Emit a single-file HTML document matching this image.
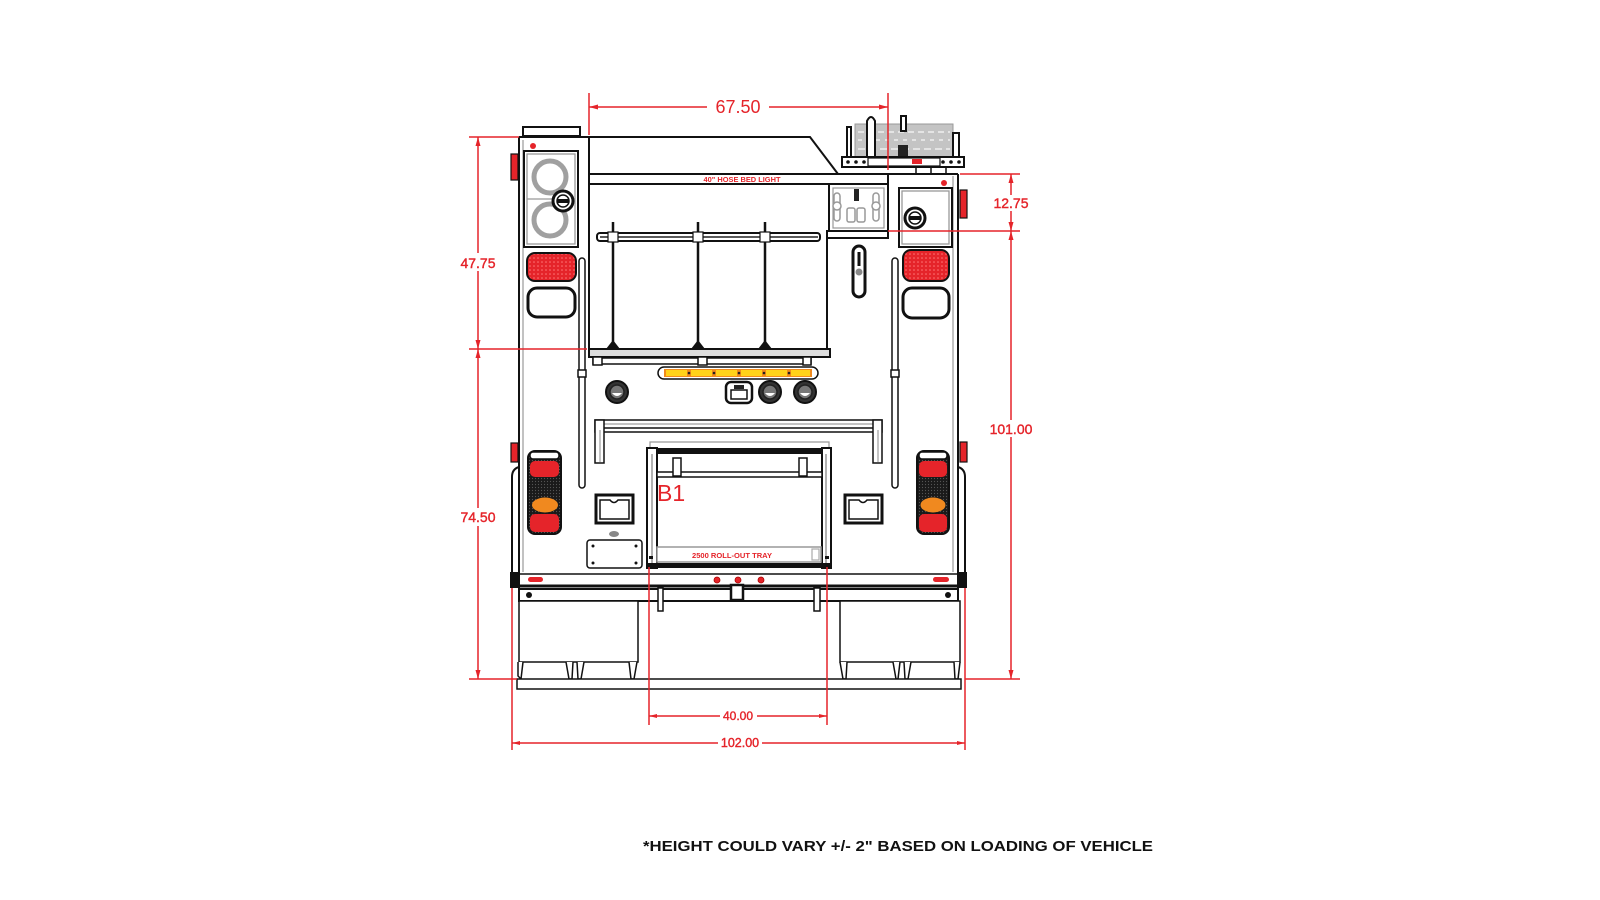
<!DOCTYPE html>
<html><head><meta charset="utf-8"><style>html,body{margin:0;padding:0;background:#fff;}svg{display:block}</style></head>
<body>
<svg width="1600" height="900" viewBox="0 0 1600 900" xmlns="http://www.w3.org/2000/svg">
<defs>
<pattern id="rd" width="4" height="4" patternUnits="userSpaceOnUse"><rect width="4" height="4" fill="#e5242a"/><circle cx="2" cy="2" r="0.8" fill="#f77"/></pattern>
<pattern id="dk" width="3" height="3" patternUnits="userSpaceOnUse"><rect width="3" height="3" fill="#1a1a1a"/><circle cx="1.5" cy="1.5" r="0.6" fill="#555"/></pattern>
</defs>
<rect width="1600" height="900" fill="#fff"/>

<g fill="none" stroke="#111" stroke-width="2">
<!-- ladder rack -->
<rect x="855" y="124" width="98" height="33" fill="#c4c4c4" stroke="#999" stroke-width="1"/>
<g stroke="#eee" stroke-width="1.5"><line x1="858" y1="132" x2="950" y2="132" stroke-dasharray="6 4"/><line x1="858" y1="140" x2="950" y2="140" stroke-dasharray="4 5"/><line x1="858" y1="149" x2="950" y2="149" stroke-dasharray="7 4"/></g>
<rect x="847" y="127" width="4" height="30" fill="#fff"/>
<path d="M867,157 L867,121 Q871,113 875,121 L875,157" fill="#fff"/>
<rect x="901" y="116" width="5" height="15" fill="#fff"/>
<rect x="953" y="133" width="6" height="24" fill="#fff"/>
<rect x="898" y="145" width="10" height="15" fill="#222" stroke="none"/>
<rect x="842" y="157" width="122" height="10" fill="#fff"/>
<rect x="868" y="158" width="72" height="8" fill="#fff" stroke-width="1.2"/>
<rect x="912" y="159" width="10" height="5" fill="#e5242a" stroke="none"/>
<g fill="#111" stroke="none"><circle cx="848" cy="162" r="1.8"/><circle cx="856" cy="162" r="1.8"/><circle cx="864" cy="162" r="1.8"/><circle cx="943" cy="162" r="1.8"/><circle cx="951" cy="162" r="1.8"/><circle cx="959" cy="162" r="1.8"/></g>
<line x1="916" y1="167" x2="916" y2="174" stroke-width="1.5"/><line x1="931" y1="167" x2="931" y2="174" stroke-width="1.5"/><line x1="946" y1="167" x2="946" y2="174" stroke-width="1.5"/>

<!-- roof & top -->
<rect x="523" y="127" width="57" height="9" fill="#fff"/>
<path d="M519,137 L810,137 L838,174"/>
<line x1="589" y1="137" x2="589" y2="357"/>
<line x1="589" y1="174" x2="958" y2="174"/>
<line x1="589" y1="184" x2="829" y2="184"/>
<line x1="888" y1="174" x2="888" y2="238"/>

<!-- body sides -->
<line x1="519" y1="137" x2="519" y2="601"/>
<line x1="523" y1="140" x2="523" y2="572" stroke="#999" stroke-width="1.2"/>
<line x1="958" y1="174" x2="958" y2="601"/>
<line x1="953" y1="176" x2="953" y2="572" stroke="#999" stroke-width="1.2"/>
<path d="M519,467 Q512,469 512,477 L512,574"/>
<path d="M958,467 Q965,469 965,477 L965,574"/>

<!-- console panel -->
<rect x="829" y="184" width="59" height="47" fill="#fff"/>
<rect x="833" y="188" width="51" height="40" stroke="#999" stroke-width="1.2"/>
<g stroke="#999" stroke-width="1.5" fill="#fff">
<rect x="834" y="193" width="6" height="28" rx="3"/><circle cx="837" cy="206" r="4"/>
<rect x="873" y="193" width="6" height="28" rx="3"/><circle cx="876" cy="206" r="4"/>
<rect x="847" y="208" width="8" height="14" rx="2"/><rect x="857" y="208" width="8" height="14" rx="2"/>
</g>
<rect x="854" y="189" width="5" height="12" fill="#222" stroke="none"/>
<rect x="827" y="231" width="61" height="7" fill="#fff"/>
<line x1="827" y1="231" x2="827" y2="357"/>

<!-- handle pill -->
<rect x="853" y="246" width="12" height="51" rx="6" fill="#fff" stroke-width="3"/>
<line x1="859" y1="252" x2="859" y2="266" stroke-width="3"/>
<circle cx="859" cy="272" r="3.5" fill="#888" stroke="none"/>

<!-- hose bed bar & posts -->
<rect x="597" y="233" width="223" height="8" rx="3" fill="#fff" stroke-width="2"/>
<line x1="600" y1="237" x2="818" y2="237" stroke-width="1.5" stroke="#222"/>
<g stroke-width="2.5"><line x1="613" y1="222" x2="613" y2="344"/><line x1="698" y1="222" x2="698" y2="344"/><line x1="765" y1="222" x2="765" y2="344"/></g>
<g fill="#111" stroke="none"><path d="M606,349 L620,349 L613,340Z"/><path d="M691,349 L705,349 L698,340Z"/><path d="M758,349 L772,349 L765,340Z"/></g>
<g stroke-width="1.2" fill="#fff"><rect x="608" y="232" width="10" height="10"/><rect x="693" y="232" width="10" height="10"/><rect x="760" y="232" width="10" height="10"/></g>

<!-- hose bed bottom -->
<rect x="589" y="349" width="241" height="8" fill="#ddd"/>
<rect x="593" y="358" width="218" height="6" fill="#fff" stroke-width="1.5"/>
<g fill="#fff" stroke-width="1.5"><rect x="593" y="357" width="9" height="8"/><rect x="698" y="357" width="9" height="8"/><rect x="803" y="357" width="8" height="8"/></g>

<!-- light bar -->
<rect x="658" y="367" width="160" height="12" rx="6" fill="#fff" stroke-width="1.5"/>
<rect x="664" y="369" width="148" height="8" fill="#f08a1d" stroke="none"/>
<g fill="#ffd21a" stroke="none"><rect x="666" y="370" width="21" height="6"/><rect x="691" y="370" width="21" height="6"/><rect x="716" y="370" width="21" height="6"/><rect x="741" y="370" width="21" height="6"/><rect x="766" y="370" width="21" height="6"/><rect x="791" y="370" width="19" height="6"/></g>
<g fill="#222" stroke="none"><circle cx="689" cy="373" r="1.3"/><circle cx="714" cy="373" r="1.3"/><circle cx="739" cy="373" r="1.3"/><circle cx="764" cy="373" r="1.3"/><circle cx="789" cy="373" r="1.3"/></g>

<!-- round lights -->
<g>
<circle cx="617" cy="392" r="11" fill="#333" stroke-width="2"/><circle cx="617" cy="392" r="7" fill="#777" stroke="#222" stroke-width="1.5"/><path d="M612,393 Q617,399 622,393Z" fill="#fff" stroke="none"/>
<circle cx="770" cy="392" r="11" fill="#333" stroke-width="2"/><circle cx="770" cy="392" r="7" fill="#777" stroke="#222" stroke-width="1.5"/><path d="M765,393 Q770,399 775,393Z" fill="#fff" stroke="none"/>
<circle cx="805" cy="392" r="11" fill="#333" stroke-width="2"/><circle cx="805" cy="392" r="7" fill="#777" stroke="#222" stroke-width="1.5"/><path d="M800,393 Q805,399 810,393Z" fill="#fff" stroke="none"/>
<rect x="726" y="382" width="26" height="21" rx="5" fill="#fff" stroke-width="2.5"/>
<rect x="731" y="390" width="16" height="9" fill="#fff" stroke-width="1.5"/><rect x="734" y="385" width="10" height="4" fill="#222" stroke="none"/>
</g>

<!-- shelf -->
<rect x="595" y="420" width="287" height="12" fill="#fff" stroke-width="1.5"/>
<line x1="597" y1="424" x2="880" y2="424" stroke="#888" stroke-width="1"/>
<line x1="597" y1="428" x2="880" y2="428" stroke-width="1.5"/>
<rect x="595" y="420" width="9" height="43" fill="#fff" stroke-width="1.5"/><line x1="600" y1="430" x2="600" y2="462" stroke="#888" stroke-width="1"/>
<rect x="873" y="420" width="9" height="43" fill="#fff" stroke-width="1.5"/><line x1="878" y1="430" x2="878" y2="462" stroke="#888" stroke-width="1"/>

<!-- compartment B1 -->
<path d="M650,448 L650,442 L829,442 L829,448" stroke="#999" stroke-width="1.2"/>
<rect x="647" y="448" width="184" height="6" fill="#111" stroke="none"/>
<rect x="647" y="448" width="10" height="120" fill="#fff" stroke-width="2"/><line x1="652" y1="454" x2="652" y2="566" stroke="#666" stroke-width="1"/>
<rect x="822" y="448" width="9" height="120" fill="#fff" stroke-width="2"/><line x1="826" y1="454" x2="826" y2="566" stroke="#666" stroke-width="1"/>
<rect x="657" y="472" width="165" height="5" fill="#fff" stroke-width="1.5"/>
<rect x="673" y="458" width="8" height="18" fill="#fff" stroke-width="1.5"/><rect x="799" y="458" width="8" height="18" fill="#fff" stroke-width="1.5"/>
<rect x="657" y="547" width="164" height="15" fill="#fff" stroke="#999" stroke-width="1.5"/>
<rect x="812" y="549" width="7" height="11" stroke="#aaa" stroke-width="1.2"/>
<rect x="647" y="563" width="184" height="5" fill="#111" stroke="none"/>
<g fill="#111" stroke="none"><rect x="649" y="556" width="4" height="3"/><rect x="825" y="556" width="4" height="3"/></g>

<!-- left column -->
<circle cx="533" cy="146" r="3" fill="#e5242a" stroke="none"/>
<rect x="524" y="151" width="54" height="96" fill="#fff"/>
<rect x="527" y="154" width="48" height="90" stroke="#999" stroke-width="1.3"/>
<line x1="527" y1="199" x2="575" y2="199" stroke="#999" stroke-width="1.3"/>
<circle cx="550" cy="177" r="16" stroke="#a0a0a0" stroke-width="5"/>
<circle cx="550" cy="220" r="16" stroke="#a0a0a0" stroke-width="5"/>
<circle cx="563" cy="201" r="10" fill="#fff" stroke-width="3"/><circle cx="563" cy="201" r="6" stroke-width="1.5"/><rect x="557" y="199" width="12" height="4" fill="#111" stroke="none"/>
<rect x="511" y="154" width="7" height="26" fill="#e5242a" stroke-width="1.2"/>
<rect x="527" y="253" width="49" height="28" rx="8" fill="url(#rd)" stroke-width="2"/>
<rect x="528" y="288" width="47" height="29" rx="9" fill="#fff" stroke-width="3"/>
<rect x="579" y="258" width="6" height="230" rx="3" fill="#fff" stroke-width="1.5"/>
<rect x="578" y="370" width="8" height="7" fill="#fff" stroke-width="1.5"/>
<rect x="511" y="443" width="7" height="19" fill="#e5242a" stroke-width="1.2"/>
<rect x="528" y="451" width="33" height="83" rx="7" fill="url(#dk)" stroke-width="2"/>
<rect x="530" y="452" width="29" height="7" rx="3" fill="#fff" stroke-width="1.5"/>
<rect x="530" y="461" width="29" height="16" rx="5" fill="#e5242a" stroke="none"/>
<rect x="530" y="514" width="29" height="18" rx="5" fill="#e5242a" stroke="none"/>
<ellipse cx="545" cy="505" rx="13" ry="7.5" fill="#f0891f" stroke="none"/>
<rect x="596" y="495" width="37" height="28" fill="#fff" stroke-width="3"/>
<path d="M600,500 L610,500 Q614,505 618,500 L629,500 L629,519 L600,519Z" stroke-width="1.5"/>
<ellipse cx="614" cy="534" rx="5" ry="3" fill="#888" stroke="none"/>
<rect x="587" y="540" width="55" height="28" rx="3" fill="#fff" stroke-width="1.5"/>
<g fill="#111" stroke="none"><circle cx="593" cy="546" r="1.5"/><circle cx="636" cy="546" r="1.5"/><circle cx="593" cy="563" r="1.5"/><circle cx="636" cy="563" r="1.5"/></g>

<!-- right column -->
<circle cx="944" cy="183" r="3" fill="#e5242a" stroke="none"/>
<rect x="899" y="188" width="53" height="59" fill="#fff"/>
<rect x="902" y="191" width="47" height="53" stroke="#999" stroke-width="1.3"/>
<circle cx="915" cy="218" r="10" fill="#fff" stroke-width="3"/><circle cx="915" cy="218" r="6" stroke-width="1.5"/><rect x="909" y="216" width="12" height="4" fill="#111" stroke="none"/>
<rect x="960" y="190" width="7" height="28" fill="#e5242a" stroke-width="1.2"/>
<rect x="903" y="250" width="46" height="31" rx="8" fill="url(#rd)" stroke-width="2"/>
<rect x="903" y="288" width="46" height="30" rx="9" fill="#fff" stroke-width="3"/>
<rect x="892" y="258" width="6" height="230" rx="3" fill="#fff" stroke-width="1.5"/>
<rect x="891" y="370" width="8" height="7" fill="#fff" stroke-width="1.5"/>
<rect x="960" y="442" width="7" height="20" fill="#e5242a" stroke-width="1.2"/>
<rect x="917" y="451" width="32" height="83" rx="7" fill="url(#dk)" stroke-width="2"/>
<rect x="919" y="452" width="28" height="7" rx="3" fill="#fff" stroke-width="1.5"/>
<rect x="919" y="461" width="28" height="16" rx="5" fill="#e5242a" stroke="none"/>
<rect x="919" y="514" width="28" height="18" rx="5" fill="#e5242a" stroke="none"/>
<ellipse cx="933" cy="505" rx="12.5" ry="7.5" fill="#f0891f" stroke="none"/>
<rect x="845" y="495" width="37" height="28" fill="#fff" stroke-width="3"/>
<path d="M849,500 L859,500 Q863,505 867,500 L878,500 L878,519 L849,519Z" stroke-width="1.5"/>

<!-- bumper -->
<line x1="512" y1="574" x2="965" y2="574" stroke-width="1.5"/>
<line x1="510" y1="586" x2="967" y2="586" stroke-width="3"/>
<rect x="528" y="577" width="15" height="5" rx="2.5" fill="#e5242a" stroke="none"/>
<rect x="933" y="577" width="16" height="5" rx="2.5" fill="#e5242a" stroke="none"/>
<g fill="#e5242a" stroke="#a00" stroke-width="0.8"><circle cx="717" cy="580" r="3"/><circle cx="738" cy="580" r="3"/><circle cx="761" cy="580" r="3"/></g>
<rect x="510" y="572" width="8" height="16" fill="#111" stroke="none"/>
<rect x="958" y="572" width="9" height="16" fill="#111" stroke="none"/>
<rect x="519" y="589" width="439" height="12" fill="#fff" stroke-width="2"/>
<g fill="#111" stroke="none"><circle cx="529" cy="595" r="3"/><circle cx="948" cy="595" r="3"/></g>
<rect x="658" y="588" width="5" height="23" fill="#fff" stroke-width="1.5"/>
<rect x="814" y="588" width="6" height="23" fill="#fff" stroke-width="1.5"/>
<rect x="731" y="585" width="12" height="15" fill="#fff" stroke-width="2.5"/>

<!-- mud flaps / tires -->
<rect x="519" y="601" width="119" height="61" fill="#fff" stroke-width="1.5"/>
<rect x="840" y="601" width="120" height="61" fill="#fff" stroke-width="1.5"/>
<g stroke-width="1.5" fill="#fff">
<path d="M518,662 L518,676 L521,679 L523,662"/>
<path d="M566,662 L569,679 L572,679 L573,662"/>
<path d="M577,662 L578,679 L581,679 L584,662"/>
<path d="M629,662 L631,679 L634,679 L637,662"/>
<path d="M840,662 L843,679 L846,679 L847,662"/>
<path d="M893,662 L896,679 L898,679 L900,662"/>
<path d="M904,662 L905,679 L908,679 L911,662"/>
<path d="M954,662 L955,679 L958,679 L960,662"/>
</g>
<rect x="517" y="679" width="444" height="10" fill="#fff" stroke-width="1.5"/>
</g>

<!-- tiny red labels -->
<text x="742" y="182" font-family="Liberation Sans, sans-serif" font-weight="bold" font-size="7" fill="#e5242a" text-anchor="middle" textLength="77" lengthAdjust="spacingAndGlyphs">40" HOSE BED LIGHT</text>
<text x="732" y="558" font-family="Liberation Sans, sans-serif" font-weight="bold" font-size="7.5" fill="#e5242a" text-anchor="middle" textLength="80" lengthAdjust="spacingAndGlyphs">2500 ROLL-OUT TRAY</text>
<text x="657" y="501" font-family="Liberation Sans, sans-serif" font-size="23" fill="#e5242a">B1</text>

<!-- dimensions -->
<g stroke="#e5242a" stroke-width="1.5" fill="none">
<line x1="589" y1="93" x2="589" y2="135"/><line x1="888" y1="93" x2="888" y2="170"/>
<line x1="589" y1="107" x2="707" y2="107"/><line x1="769" y1="107" x2="888" y2="107"/>
<line x1="469" y1="137" x2="519" y2="137"/><line x1="469" y1="349" x2="587" y2="349"/><line x1="469" y1="679" x2="517" y2="679"/>
<line x1="478" y1="137" x2="478" y2="253"/><line x1="478" y1="271" x2="478" y2="508"/><line x1="478" y1="526" x2="478" y2="679"/>
<line x1="960" y1="174" x2="1020" y2="174"/><line x1="888" y1="231" x2="1020" y2="231"/><line x1="965" y1="679" x2="1020" y2="679"/>
<line x1="1011" y1="174" x2="1011" y2="195"/><line x1="1011" y1="211" x2="1011" y2="420"/><line x1="1011" y1="437" x2="1011" y2="679"/>
<line x1="649" y1="567" x2="649" y2="725"/><line x1="827" y1="567" x2="827" y2="725"/>
<line x1="649" y1="716" x2="720" y2="716"/><line x1="757" y1="716" x2="827" y2="716"/>
<line x1="512" y1="588" x2="512" y2="750"/><line x1="965" y1="588" x2="965" y2="750"/>
<line x1="512" y1="743" x2="718" y2="743"/><line x1="762" y1="743" x2="965" y2="743"/>
</g>
<g fill="#e5242a">
<path d="M589,107 L598,104.5 L598,109.5Z"/><path d="M888,107 L879,104.5 L879,109.5Z"/>
<path d="M478,137 L475.5,146 L480.5,146Z"/><path d="M478,349 L475.5,340 L480.5,340Z"/><path d="M478,349 L475.5,358 L480.5,358Z"/><path d="M478,679 L475.5,670 L480.5,670Z"/>
<path d="M1011,174 L1008.5,183 L1013.5,183Z"/><path d="M1011,231 L1008.5,222 L1013.5,222Z"/><path d="M1011,231 L1008.5,240 L1013.5,240Z"/><path d="M1011,679 L1008.5,670 L1013.5,670Z"/>
<path d="M649,716 L657,714 L657,718Z"/><path d="M827,716 L819,714 L819,718Z"/>
<path d="M512,743 L520,741 L520,745Z"/><path d="M965,743 L957,741 L957,745Z"/>
</g>
<g font-family="Liberation Sans, sans-serif" fill="#e5242a" text-anchor="middle">
<text x="738" y="113" font-size="18">67.50</text>
<g stroke="#e5242a" stroke-width="0.4">
<text x="478" y="268" font-size="14">47.75</text>
<text x="478" y="522" font-size="14">74.50</text>
<text x="1011" y="208" font-size="14">12.75</text>
<text x="1011" y="434" font-size="14">101.00</text>
<text x="738" y="720" font-size="12">40.00</text>
<text x="740" y="747" font-size="12.5">102.00</text>
</g>
</g>

<text x="643" y="851" font-family="Liberation Sans, sans-serif" font-weight="bold" font-size="15" fill="#111" textLength="510" lengthAdjust="spacingAndGlyphs">*HEIGHT COULD VARY +/- 2" BASED ON LOADING OF VEHICLE</text>
</svg>
</body></html>
